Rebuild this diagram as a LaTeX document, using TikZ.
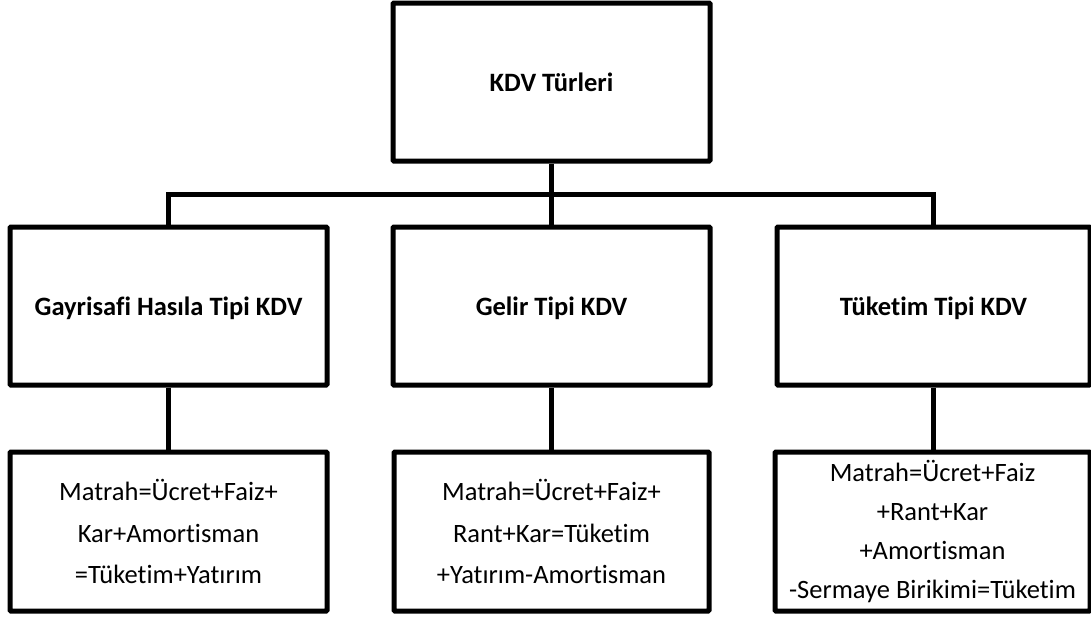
\documentclass[tikz,border=0pt]{standalone}
\usepackage{fontspec}
\setmainfont{Carlito}[Ligatures=NoCommon]
\begin{document}
\begin{tikzpicture}[x=1pt,y=-1pt,
  box/.style={draw=black, line width=5pt, rounded corners=1pt, fill=white, inner sep=0pt, align=center},
  head/.style={box, minimum height=158pt, text height=19pt, text depth=0pt, font=\bfseries\fontsize{26.5}{30}\selectfont},
  formula/.style={box, minimum height=159pt, font=\fontsize{26.5}{41.5}\selectfont},
  link/.style={line width=5pt, line cap=butt}]
\useasboundingbox (0,0) rectangle (1091,616);
\node[head, minimum width=317pt] (top) at (551.5,82) {KDV Türleri};
\node[head, minimum width=317pt] (g1) at (168.5,306) {Gayrisafi Hasıla Tipi KDV};
\node[head, minimum width=317pt] (g2) at (551.5,306) {Gelir Tipi KDV};
\node[head, minimum width=313pt] (g3) at (933.5,306) {Tüketim Tipi KDV};
\node[formula, minimum width=317pt] (f1) at (168.5,531.5) {Matrah=Ücret+Faiz+\\Kar+Amortisman\\=Tüketim+Yatırım};
\node[formula, minimum width=315pt] (f2) at (551.5,531.5) {Matrah=Ücret+Faiz+\\Rant+Kar=Tüketim\\+Yatırım-Amortisman};
\node[formula, minimum width=315pt, font=\fontsize{26.5}{39}\selectfont] (f3) at (932.5,531.5) {Matrah=Ücret+Faiz\\+Rant+Kar\\+Amortisman\\-Sermaye Birikimi=Tüketim};
\coordinate (bus) at (551.5,194);
\draw[link] (top.south) -- (bus);
\draw[link] (g1.north) -- (g1.north |- bus) -- (g3.north |- bus) -- (g3.north);
\draw[link] (bus) -- (g2.north);
\draw[link] (g1.south) -- (f1.north);
\draw[link] (g2.south) -- (f2.north);
\draw[link] (g3.south) -- (g3.south |- f3.north);
\end{tikzpicture}
\end{document}
